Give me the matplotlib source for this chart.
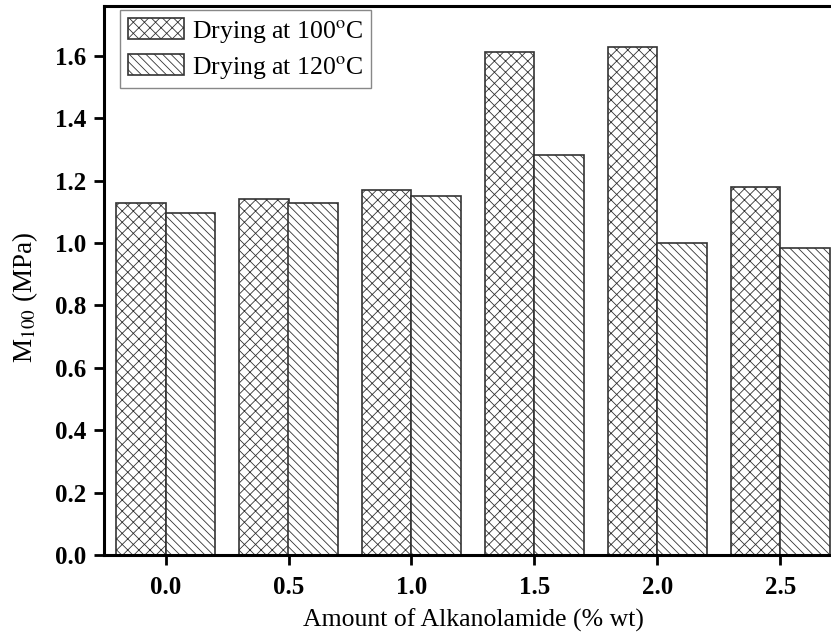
import numpy as np
import matplotlib
matplotlib.use("Agg")
import matplotlib.pyplot as plt

# amount of alkanolamide (% wt)
amounts = [0.0, 0.5, 1.0, 1.5, 2.0, 2.5]
m100_dry100 = [1.130, 1.141, 1.170, 1.613, 1.627, 1.180]
m100_dry120 = [1.097, 1.130, 1.152, 1.282, 1.001, 0.983]
labels = [r"Drying at 100$^{\rm o}$C", r"Drying at 120$^{\rm o}$C"]
yticks = [0.0, 0.2, 0.4, 0.6, 0.8, 1.0, 1.2, 1.4, 1.6]

plt.rcParams["font.family"] = ["Liberation Serif", "DejaVu Serif"]
plt.rcParams["mathtext.fontset"] = "stix"
plt.rcParams["hatch.linewidth"] = 0.6
plt.rcParams["hatch.color"] = "#555555"

fig = plt.figure(figsize=(8.31, 6.33), dpi=100)
# the right edge of the axes runs slightly past the image, as in the original
ax = fig.add_axes([104 / 831, 1 - 555 / 633, 738 / 831, 549 / 633])

w = 0.2
x = np.array(amounts)
ax.bar(x - w / 2, m100_dry100, width=w, color="white", edgecolor="#333333",
       linewidth=1.2, hatch="xxx", label=labels[0])
ax.bar(x + w / 2, m100_dry120, width=w, color="white", edgecolor="#333333",
       linewidth=1.2, hatch="\\\\\\\\", label=labels[1])

ax.set_xlim(-0.25, 2.75)
ax.set_ylim(0, 1.76)
ax.set_xticks(amounts)
ax.set_xticklabels([f"{a:.1f}" for a in amounts])
ax.set_yticks(yticks)
ax.set_yticklabels([f"{t:.1f}" for t in yticks])

for s in ax.spines.values():
    s.set_linewidth(2.2)
ax.tick_params(direction="out", length=7, width=2.0, labelsize=18)
ax.tick_params(axis="x", pad=8)
ax.tick_params(axis="y", pad=6)
for lab in ax.get_xticklabels() + ax.get_yticklabels():
    lab.set_fontweight("bold")

ax.set_xlabel("Amount of Alkanolamide (% wt)", fontsize=18.5)
ax.xaxis.set_label_coords(0.5, -(609 - 555) / 549)
ax.set_ylabel(r"M$_{100}$ (MPa)", fontsize=19.5)
ax.yaxis.set_label_coords(-(104 - 40) / 738, (555 - 297) / 549)

leg = ax.legend(loc="upper left", bbox_to_anchor=(0.0217, 0.993),
                borderaxespad=0, fontsize=18.5, fancybox=False,
                framealpha=1, edgecolor="#888888", handlelength=2.2,
                handleheight=0.9, labelspacing=0.35, borderpad=0.3,
                handletextpad=0.3)
leg.get_frame().set_linewidth(1.0)

fig.savefig("out.png", dpi=100)
